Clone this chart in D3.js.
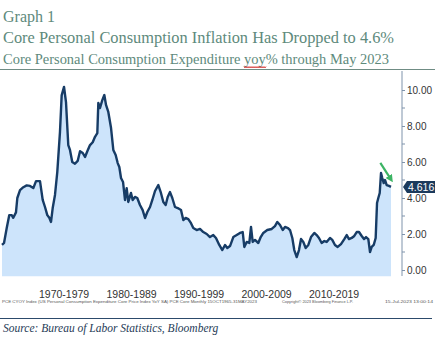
<!DOCTYPE html>
<html>
<head>
<meta charset="utf-8">
<script src="https://cdn.jsdelivr.net/npm/d3@7"></script>
<style>
  body { margin: 0; background: #fff; }
  svg { display: block; }
</style>
</head>
<body>
<div id="chart"></div>
<script>
// monthly-ish readings of core PCE yoy % (decimal year, value)
var years = [1965.8, 1966.10, 1966.50, 1966.88, 1967.24, 1967.47, 1967.87, 1968.07, 1968.47, 1968.96,
  1969.46, 1969.95, 1970.44, 1970.84, 1971.43, 1971.83, 1972.17, 1972.51, 1972.81, 1973.06,
  1973.31, 1973.65, 1973.99, 1974.39, 1974.64, 1974.99, 1975.28, 1975.62, 1975.87, 1976.21,
  1976.61, 1977.01, 1977.36, 1977.76, 1978.10, 1978.44, 1978.84, 1979.24, 1979.58, 1979.92,
  1980.07, 1980.32, 1980.66, 1980.96, 1981.21, 1981.55, 1981.95, 1982.29, 1982.64, 1982.94,
  1983.18, 1983.43, 1983.73, 1984.02, 1984.27, 1984.51, 1984.91, 1985.16, 1985.50, 1985.84,
  1986.24, 1986.64, 1986.99, 1987.33, 1987.73, 1988.07, 1988.47, 1988.96, 1989.31, 1989.70,
  1990.05, 1990.35, 1990.69, 1991.03, 1991.43, 1991.83, 1992.32, 1992.66, 1993.01, 1993.40,
  1993.80, 1994.14, 1994.64, 1995.13, 1995.62, 1996.13, 1996.61, 1997.10, 1997.50, 1997.99,
  1998.44, 1998.84, 1999.18, 1999.58, 2000.07, 2000.57, 2001.06, 2001.46, 2001.70, 2002.05,
  2002.44, 2002.69, 2002.94, 2003.28, 2003.77, 2004.13, 2004.51, 2005.10, 2005.76, 2006.24,
  2006.59, 2006.99, 2007.39, 2007.73, 2008.17, 2008.47, 2008.81, 2009.10, 2009.46, 2009.80,
  2010.10, 2010.44, 2010.79, 2011.18, 2011.58, 2012.07, 2012.42, 2012.76, 2013.16, 2013.55,
  2013.90, 2014.39, 2014.73, 2015.13, 2015.53, 2016.02, 2016.51, 2016.87, 2017.21, 2017.61,
  2017.99, 2018.35, 2018.69, 2019.09, 2019.43, 2019.73, 2020.07, 2020.32, 2020.57, 2020.87,
  2021.16, 2021.36, 2021.55, 2021.76, 2021.95, 2022.14, 2022.35, 2022.54, 2022.79, 2023.13,
  2023.43];
var values = [1.39, 1.5, 2.33, 3.05, 3.05, 2.9, 3.2, 4.0, 4.44, 4.6,
  4.7, 4.67, 4.55, 4.94, 4.94, 3.9, 3.5, 3.05, 2.9, 2.67,
  3.44, 4.17, 5.44, 7.67, 9.7, 10.17, 9.33, 6.94, 6.67, 6.0,
  5.9, 6.06, 6.6, 6.5, 6.28, 6.6, 6.94, 7.1, 7.4, 7.6,
  9.28, 9.0, 9.44, 9.72, 9.17, 8.78, 7.9, 6.67, 6.39, 5.94,
  5.72, 5.11, 4.89, 3.89, 4.55, 3.78, 4.28, 3.89, 4.06, 4.0,
  3.61, 3.33, 2.89, 3.22, 3.5, 3.89, 4.39, 4.72, 4.33, 3.78,
  3.61, 4.06, 4.33, 4.0, 3.5, 3.44, 3.33, 2.78, 2.89, 2.83,
  2.6, 2.33, 2.22, 2.28, 2.11, 2.0, 1.83, 1.94, 1.78, 1.39,
  1.11, 1.39, 1.22, 1.33, 1.83, 1.94, 2.06, 2.11, 1.28, 1.56,
  1.5, 2.39, 1.56, 1.67, 1.5, 1.83, 2.06, 2.22, 2.28, 2.44,
  2.67, 2.5, 2.22, 2.39, 2.33, 2.22, 1.78, 1.11, 0.72, 1.11,
  1.72, 1.56, 1.22, 1.39, 1.83, 2.06, 1.94, 1.78, 1.5, 1.61,
  1.56, 1.78, 1.67, 1.39, 1.28, 1.44, 1.72, 1.94, 1.72, 1.78,
  1.89, 2.11, 2.11, 1.89, 1.72, 1.83, 1.72, 1.0, 1.28, 1.39,
  1.78, 3.72, 4.0, 4.28, 5.39, 5.11, 4.83, 5.0, 4.72, 4.67,
  4.616];
var majorTicks = [0, 2, 4, 6, 8, 10];
var minorTicks = [1, 3, 5, 7, 9];
var decadeLabels = ["1970-1979", "1980-1989", "1990-1999", "2000-2009", "2010-2019"];
var decadeStarts = [1970, 1980, 1990, 2000, 2010];
var lastValue = "4.616";

var W = 446, H = 344;
var svg = d3.select("#chart").append("svg")
    .attr("width", W).attr("height", H);

// headings
var green = "#5e8a7c";
var serif = "'Liberation Serif', 'Times New Roman', serif";
var sans = "'Liberation Sans', Arial, sans-serif";
svg.append("text").attr("x", 3).attr("y", 22).text("Graph 1")
  .style("font-family", serif).style("font-size", "16px").style("fill", green);
svg.append("text").attr("x", 3).attr("y", 43)
  .text("Core Personal Consumption Inflation Has Dropped to 4.6%")
  .attr("textLength", 391).attr("lengthAdjust", "spacingAndGlyphs")
  .style("font-family", serif).style("font-size", "16.5px").style("fill", green);
var sub = svg.append("text").attr("x", 3).attr("y", 64)
  .style("font-family", serif).style("font-size", "14.5px").style("fill", green);
sub.append("tspan").text("Core Personal Consumption Expenditure ");
sub.append("tspan").text("yoy");
sub.append("tspan").text("% through May 2023");
sub.attr("textLength", 386).attr("lengthAdjust", "spacingAndGlyphs");

svg.append("line").attr("x1", 0).attr("x2", 435).attr("y1", 69.5).attr("y2", 69.5)
  .style("stroke", "#6f8c84").style("stroke-width", 1);

// red squiggle under "yoy"
var full = sub.node();
var pre = "Core Personal Consumption Expenditure ".length;
var sx0 = full.getStartPositionOfChar(pre).x;
var sx1 = full.getEndPositionOfChar(pre + 2).x;
var sq = "M" + sx0 + ",66.5";
for (var i = sx0; i < sx1; i += 2) {
  sq += " l1,1.5 l1,-1.5";
}
svg.append("path").attr("d", sq).style("fill", "none")
  .style("stroke", "#d0201c").style("stroke-width", 0.8);

// scales
var x = d3.scaleLinear().domain([years[0], years[years.length - 1]]).range([2, 391]);
var y = d3.scaleLinear().domain([0, 10]).range([270, 90]);
var yBase = y(-0.35);

var data = years.map(function(d, i) { return {t: d, v: values[i]}; });

var area = d3.area()
  .x(function(d) { return x(d.t); })
  .y0(yBase)
  .y1(function(d) { return y(d.v); });
var line = d3.line()
  .x(function(d) { return x(d.t); })
  .y(function(d) { return y(d.v); });

svg.append("path").datum(data).attr("d", area).style("fill", "#cde4fb");
svg.append("path").datum(data).attr("d", line)
  .style("fill", "none").style("stroke", "#173c66")
  .style("stroke-width", 2.4).style("stroke-linejoin", "round");

// right axis
var axisX = 402;
var yAxis = d3.axisRight(y).tickValues(majorTicks).tickSize(3).tickPadding(2)
  .tickFormat(d3.format(".2f"));
var gAxis = svg.append("g").attr("transform", "translate(" + axisX + ",0)").call(yAxis);
gAxis.select(".domain").remove();
gAxis.append("line").attr("y1", 71).attr("y2", 276).style("stroke", "#7f93ab");
gAxis.selectAll(".tick line").style("stroke", "#7f93ab");
gAxis.selectAll(".tick text")
  .style("font-family", sans)
  .style("font-size", "10px").style("fill", "#333");
gAxis.selectAll(".minor").data(minorTicks).enter().append("line")
  .attr("x1", 0).attr("x2", 3)
  .attr("y1", function(d) { return y(d); }).attr("y2", function(d) { return y(d); })
  .style("stroke", "#7f93ab");

// last value marker
var yl = y(+lastValue);
svg.append("path")
  .attr("d", "M" + (axisX + 1) + "," + yl + " l4,-6 h28 v12 h-28 z")
  .style("fill", "#1b3a5c");
svg.append("text").attr("x", axisX + 6).attr("y", yl + 3.8).text(lastValue)
  .style("font-family", sans)
  .style("font-size", "10.5px").style("fill", "#fff");

// green arrow
var gx0 = x(2021.85), gy0 = y(5.95), gx1 = x(2023.4), gy1 = y(5.05);
svg.append("defs").append("marker").attr("id", "ah")
  .attr("viewBox", "0 0 10 10").attr("refX", 5).attr("refY", 5)
  .attr("markerWidth", 3.4).attr("markerHeight", 3.4).attr("orient", "auto")
  .append("path").attr("d", "M0,0 L10,5 L0,10 z").style("fill", "#3cb464");
svg.append("line").attr("x1", gx0).attr("y1", gy0).attr("x2", gx1).attr("y2", gy1)
  .style("stroke", "#3cb464").style("stroke-width", 2.2)
  .attr("marker-end", "url(#ah)");

// decade labels, centred on each decade
svg.selectAll(".dec").data(decadeLabels).enter().append("text")
  .attr("x", function(d, i) { return x(decadeStarts[i] + 5); })
  .attr("y", 297.5)
  .attr("text-anchor", "middle")
  .text(function(d) { return d; })
  .style("font-family", sans)
  .style("font-size", "10.5px").style("fill", "#333");

// bloomberg footnote
function foot(tx, xx, len) {
  svg.append("text").attr("x", xx).attr("y", 303).text(tx)
    .attr("textLength", len).attr("lengthAdjust", "spacingAndGlyphs")
    .style("font-family", sans).style("font-size", "4.3px").style("fill", "#555");
}
foot("PCE CYOY Index (US Personal Consumption Expenditure Core Price Index YoY SA) PCE Core  Monthly 15OCT1965-31MAY2023", 2, 255);
foot("Copyright\u00a9 2023 Bloomberg Finance L.P.", 282, 71);
foot("15-Jul-2023 13:00:14", 385, 48);

// bottom rule and source
svg.append("line").attr("x1", 0).attr("x2", 432).attr("y1", 318.5).attr("y2", 318.5)
  .style("stroke", "#2c4a6b").style("stroke-width", 1.2);
svg.append("text").attr("x", 3).attr("y", 332)
  .text("Source:  Bureau of Labor Statistics, Bloomberg")
  .style("font-family", serif).style("font-style", "italic")
  .style("font-size", "11.5px").style("fill", "#263b57");
</script>
</body>
</html>
